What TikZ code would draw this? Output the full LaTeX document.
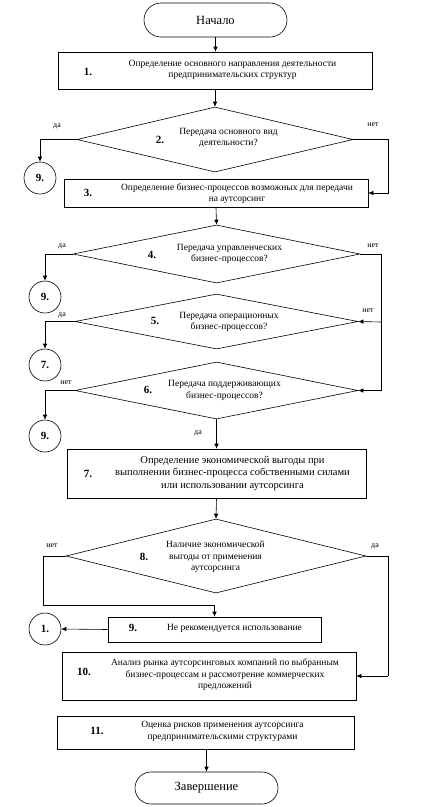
\documentclass[tikz,border=0pt]{standalone}
\usepackage{fontspec}
\setmainfont{Liberation Serif}
\usetikzlibrary{shapes.geometric,shapes.misc,arrows.meta}
\begin{document}
\begin{tikzpicture}[x=1pt,y=-1pt,
  line width=0.6pt,
  >={Latex[length=5pt,width=4.5pt]},
  term/.style={draw, rounded rectangle, inner sep=0, font=\fontsize{12.5}{14}\selectfont},
  blk/.style={draw, rectangle, inner sep=0},
  dia/.style={draw, diamond, inner sep=0},
  conn/.style={draw, circle, inner sep=0, minimum size=32pt, font=\bfseries\fontsize{11}{13}\selectfont},
  txt/.style={inner sep=0, align=center, font=\fontsize{9.5}{11.5}\selectfont},
  num/.style={inner sep=0, font=\bfseries\fontsize{11}{13}\selectfont},
  lbl/.style={inner sep=0, font=\fontsize{8}{9}\selectfont}
]
\useasboundingbox (0,0) rectangle (423,807);

% terminals
\node[term, minimum width=143pt, minimum height=34pt] (start) at (215.5,20) {Начало};
\node[term, minimum width=143pt, minimum height=32pt] (end) at (206.5,788) {Завершение};

% boxes
\node[blk, minimum width=314pt, minimum height=37pt] (b1) at (215,70.5) {};
\node[num] (n1) at (88,72) {1.};
\node[txt] (t1) at (232.5,70) {Определение основного направления деятельности\\предпринимательских структур};

\node[dia, minimum width=276pt, minimum height=65pt] (d2) at (215,139.5) {};
\node[num] (n2) at (160,140) {2.};
\node[txt] (t2) at (228.5,138) {Передача основного вид\\деятельности?};

\node[blk, minimum width=304pt, minimum height=28pt] (b3) at (216,193) {};
\node[num] (n3) at (88,192.5) {3.};
\node[txt] (t3) at (237,193.5) {Определение бизнес-процессов возможных для передачи\\на аутсорсинг};

\node[dia, minimum width=287pt, minimum height=58pt] (d4) at (216.5,254) {};
\node[num] (n4) at (152,254.5) {4.};
\node[txt] (t4) at (229.5,254) {Передача управленческих\\бизнес-процессов?};

\node[dia, minimum width=283pt, minimum height=55pt] (d5) at (216.5,321.5) {};
\node[num] (n5) at (155,320.5) {5.};
\node[txt] (t5) at (229,322) {Передача операционных\\бизнес-процессов?};

\node[dia, minimum width=283pt, minimum height=57pt] (d6) at (216.5,390.5) {};
\node[num] (n6) at (148,389.5) {6.};
\node[txt] (t6) at (224.5,390.5) {Передача поддерживающих\\бизнес-процессов?};

\node[blk, minimum width=299pt, minimum height=49pt] (b7) at (216.5,473.5) {};
\node[num] (n7) at (88,474) {7.};
\node[txt, font=\fontsize{10.5}{12.5}\selectfont] (t7) at (232.5,473.5) {Определение экономической выгоды при\\выполнении бизнес-процесса собственными силами\\или использовании аутсорсинга};

\node[dia, minimum width=300pt, minimum height=74pt] (d8) at (216,556) {};
\node[num] (n8) at (144,557) {8.};
\node[txt] (t8) at (215.5,557) {Наличие экономической\\выгоды от применения\\аутсорсинга};

\node[blk, minimum width=213pt, minimum height=25pt] (b9) at (214.5,629.5) {};
\node[num] (n9) at (133,628) {9.};
\node[txt] (t9) at (234.5,628) {Не рекомендуется использование};

\node[blk, minimum width=294pt, minimum height=48pt] (b10) at (209,676) {};
\node[num] (n10) at (84,672) {10.};
\node[txt] (t10) at (225,675) {Анализ рынка аутсорсинговых компаний по выбранным\\бизнес-процессам и рассмотрение коммерческих\\предложений};

\node[blk, minimum width=297pt, minimum height=33pt] (b11) at (205.5,732.5) {};
\node[num] (n11) at (97,730.5) {11.};
\node[txt] (t11) at (222.5,731.5) {Оценка рисков применения аутсорсинга\\предпринимательскими структурами};

% connectors (circles)
\node[conn] (c9a) at (40,178) {9.};
\node[conn] (c9b) at (45,297) {9.};
\node[conn] (c7) at (45,365) {7.};
\node[conn] (c9c) at (45,436) {9.};
\node[conn] (c1) at (45,629) {1.};

% junction coordinates
\coordinate (j2) at (388,193);
\coordinate (j4) at (381,322);
\coordinate (k1) at (43,605);
\coordinate (k2) at (388,676);

% arrows
\draw[->] (start.south) -- (start.south |- b1.north);
\draw[->] (b1.south) -- (d2.north);
\draw[->] (d2.west) -| (c9a.north);
\draw[->] (d2.east) -| (j2) -- (b3.east);
\draw[->] (b3.south) -- (d4.north);
\draw[->] (d4.west) -| (c9b.north);
\draw (d4.east) -| (j4);
\draw[->] (j4) -- (d5.east);
\draw[->] (j4) |- (d6.east);
\draw[->] (d5.west) -| (c7.north);
\draw[->] (d6.west) -| (c9c.north);
\draw[->] (d6.south) -- (b7.north);
\draw[->] (b7.south) -- (d8.north);
\draw (d8.west) -| (k1);
\draw[->] (k1) -| (b9.north);
\draw (d8.east) -| (k2);
\draw[->] (k2) -- (b10.east);
\draw[->] (b9.west) -- (c1.east);
\draw[->] (end.north |- b11.south) -- (end.north);

% branch labels
\node[lbl] (l2a) at (57,126) {да};
\node[lbl] (l2b) at (373,125) {нет};
\node[lbl] (l4a) at (62,246) {да};
\node[lbl] (l4b) at (373,246) {нет};
\node[lbl] (l5a) at (62,315) {да};
\node[lbl] (l5b) at (368,311) {нет};
\node[lbl] (l6a) at (66,383) {нет};
\node[lbl] (l6b) at (198,433) {да};
\node[lbl] (l8a) at (52,546) {нет};
\node[lbl] (l8b) at (375,546) {да};
\end{tikzpicture}
\end{document}
